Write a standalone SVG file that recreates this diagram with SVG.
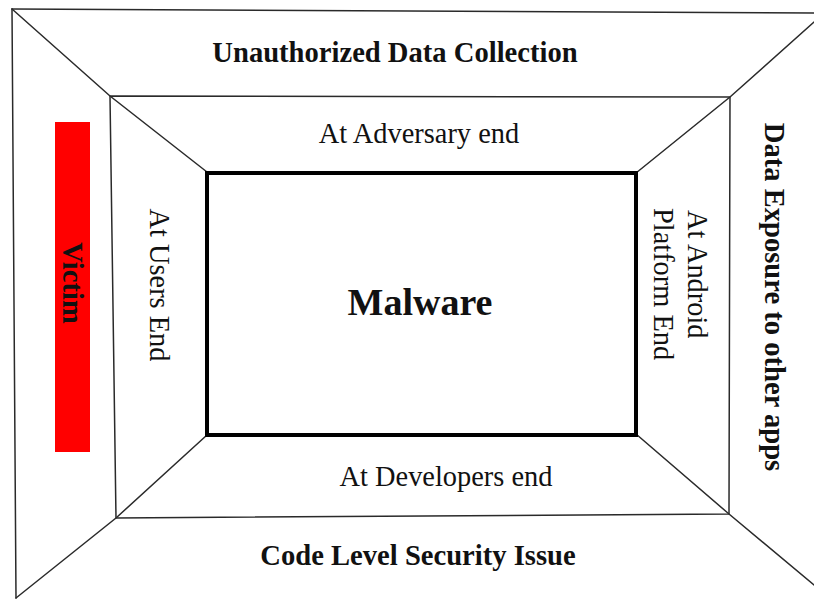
<svg xmlns="http://www.w3.org/2000/svg" width="814" height="600" viewBox="0 0 814 600">
  <style>
    .edge { fill: none; stroke: #2a2a2a; stroke-width: 1.5; stroke-linecap: round; }
    .core { fill: #ffffff; stroke: #000000; stroke-width: 4; }
    .bold { font-family: "Liberation Serif", "Times New Roman", serif; font-weight: bold; font-size: 28.6px; fill: #111; }
    .reg { font-family: "Liberation Serif", "Times New Roman", serif; font-size: 28.4px; fill: #111; }
    .big { font-family: "Liberation Serif", "Times New Roman", serif; font-weight: bold; font-size: 38px; fill: #111; }
  </style>
  <rect width="814" height="600" fill="#ffffff"/>

  <!-- perspective frame: outer border, inner rectangle and corner diagonals -->
  <g id="connectors">
    <path class="edge" d="M12,9 L814,13"/>
    <path class="edge" d="M12,9 L16,598"/>
    <path class="edge" d="M110,96 L730,97 L729,514 L116,518 Z"/>
    <path class="edge" d="M12,9 L110,96 L207,172"/>
    <path class="edge" d="M16,598 L116,518 L207,435"/>
    <path class="edge" d="M814,22 L730,97 L636,173"/>
    <path class="edge" d="M814,585 L729,514 L636,434"/>
  </g>

  <!-- central box -->
  <g id="malware">
    <rect class="core" x="207" y="173" width="429" height="262"/>
    <text class="big" x="420" y="315" text-anchor="middle">Malware</text>
  </g>

  <!-- outer ring labels -->
  <g id="unauthorized-data-collection">
    <text class="bold" x="395" y="62" text-anchor="middle">Unauthorized Data Collection</text>
  </g>
  <g id="code-level-security-issue">
    <text class="bold" x="418" y="565" text-anchor="middle">Code Level Security Issue</text>
  </g>
  <g id="data-exposure">
    <text class="bold" transform="translate(765,297) rotate(90)" text-anchor="middle">Data Exposure to other apps</text>
  </g>
  <g id="victim">
    <rect x="55" y="122" width="35" height="330" fill="#ff0000"/>
    <text class="bold" transform="translate(63,283) rotate(90)" text-anchor="middle">Victim</text>
  </g>

  <!-- inner ring labels -->
  <g id="adversary-end">
    <text class="reg" x="419" y="143" text-anchor="middle">At Adversary end</text>
  </g>
  <g id="developers-end">
    <text class="reg" x="446" y="486" text-anchor="middle">At Developers end</text>
  </g>
  <g id="users-end">
    <text class="reg" transform="translate(150,285) rotate(90)" text-anchor="middle">At Users End</text>
  </g>
  <g id="android-platform-end">
    <text class="reg" transform="translate(688,210) rotate(90)">At Android</text>
    <text class="reg" transform="translate(654,208) rotate(90)">Platform End</text>
  </g>
</svg>
